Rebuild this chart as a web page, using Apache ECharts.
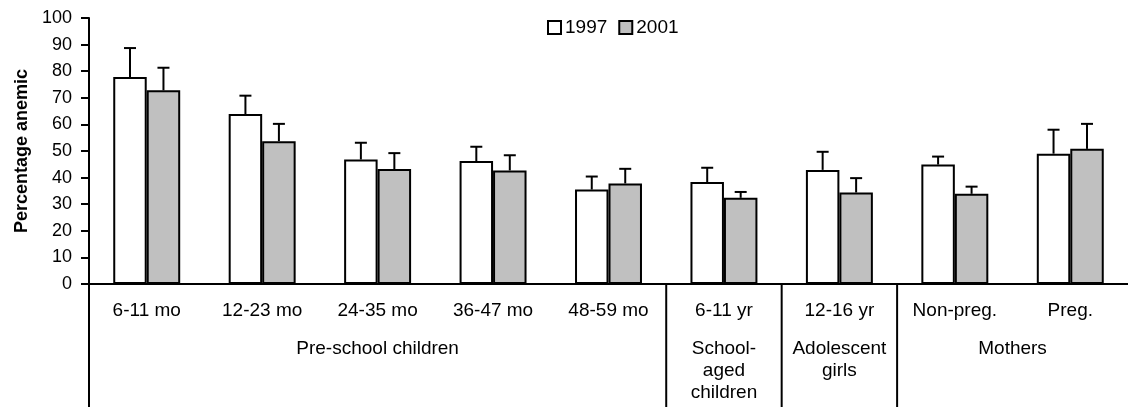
<!DOCTYPE html>
<html>
<head>
<meta charset="utf-8">
<script src="https://cdn.jsdelivr.net/npm/echarts@6/dist/echarts.min.js"></script>
<style>
html,body{margin:0;padding:0;background:#fff;}
#chart{width:1128px;height:407px;}
</style>
</head>
<body>
<div id="chart"></div>
<script>
// ---- data ----
const categories = ['6-11 mo','12-23 mo','24-35 mo','36-47 mo','48-59 mo','6-11 yr','12-16 yr','Non-preg.','Preg.'];
const values1997 = [77.8, 63.9, 46.8, 46.2, 35.5, 38.3, 42.9, 44.9, 49.0];
const values2001 = [72.8, 53.7, 43.2, 42.7, 37.8, 32.4, 34.4, 33.9, 50.8];
const upper1997 = [88.7, 70.8, 53.1, 51.6, 40.4, 43.7, 49.7, 47.9, 58.0];
const upper2001 = [81.3, 60.2, 49.2, 48.4, 43.3, 34.6, 39.8, 36.6, 60.2];
const groupNames = ['Pre-school children', 'School-\naged\nchildren', 'Adolescent\ngirls', 'Mothers'];
const groupFirst = [0, 5, 6, 7];
const groupLast = [4, 5, 6, 8];
const yTicks = [0,10,20,30,40,50,60,70,80,90,100];

const FONT = 'Liberation Sans, Arial, sans-serif';
const GAP = 0.42;

function errSeries(vals, ups, side) {
  return {
    type: 'custom',
    clip: false,
    z: 5,
    silent: true,
    data: vals.map((v, i) => [i, v, ups[i]]),
    renderItem: function (params, api) {
      const i = api.value(0);
      const bw = api.size([1, 0])[0];
      const barW = bw * (1 - GAP) / 2;
      const p0 = api.coord([i, api.value(1)]);
      const p1 = api.coord([i, api.value(2)]);
      const x = p0[0] + side * barW / 2;
      const cap = 6;
      const st = { stroke: '#000', lineWidth: 2 };
      return {
        type: 'group',
        children: [
          { type: 'line', shape: { x1: x, y1: p0[1], x2: x, y2: p1[1] }, style: st },
          { type: 'line', shape: { x1: x - cap, y1: p1[1], x2: x + cap, y2: p1[1] }, style: st }
        ]
      };
    }
  };
}

const chart = echarts.init(document.getElementById('chart'), null, { renderer: 'canvas' });
chart.setOption({
  animation: false,
  backgroundColor: '#fff',
  textStyle: { fontFamily: FONT, color: '#000' },
  grid: { left: 89, right: -7, top: 18, bottom: 123 },
  legend: {
    data: ['1997', '2001'],
    left: 547, top: 18, padding: 0,
    itemWidth: 13, itemHeight: 13, itemGap: 11,
    icon: 'rect',
    textStyle: { fontSize: 19, color: '#000', fontFamily: FONT, padding: [0, 0, 0, -1] }
  },
  xAxis: {
    type: 'category',
    data: categories,
    axisLine: { lineStyle: { color: '#000', width: 2 } },
    axisTick: { show: false },
    axisLabel: { fontSize: 19, color: '#000', margin: 17, fontFamily: FONT, interval: 0 },
    splitLine: { show: false }
  },
  yAxis: {
    type: 'value',
    min: yTicks[0], max: yTicks[yTicks.length - 1], interval: 10,
    name: 'Percentage anemic',
    nameLocation: 'middle',
    nameGap: 57,
    nameTextStyle: { fontSize: 18, fontWeight: 'bold', color: '#000', fontFamily: FONT },
    axisLine: { show: true, lineStyle: { color: '#000', width: 2 } },
    axisTick: { show: true, length: 8, lineStyle: { color: '#000', width: 2 } },
    axisLabel: { fontSize: 18, color: '#000', margin: 17, fontFamily: FONT },
    splitLine: { show: false }
  },
  series: [
    {
      name: '1997', type: 'bar', data: values1997,
      barGap: '0%', barCategoryGap: (GAP * 100) + '%',
      itemStyle: { color: '#ffffff', borderColor: '#000', borderWidth: 2 }
    },
    {
      name: '2001', type: 'bar', data: values2001,
      barGap: '0%', barCategoryGap: (GAP * 100) + '%',
      itemStyle: { color: '#c0c0c0', borderColor: '#000', borderWidth: 2 }
    },
    errSeries(values1997, upper1997, -1),
    errSeries(values2001, upper2001, 1),
    {
      type: 'custom',
      clip: false,
      silent: true,
      data: groupFirst.map((f, k) => [f, groupLast[k]]),
      renderItem: function (params, api) {
        const f = api.value(0), l = api.value(1);
        const bw = api.size([1, 0])[0];
        const a = api.coord([f, 0]);
        const b = api.coord([l, 0]);
        const xl = a[0] - bw / 2;
        const cx = (a[0] + b[0]) / 2;
        return {
          type: 'group',
          children: [
            { type: 'line', shape: { x1: xl, y1: a[1], x2: xl, y2: a[1] + 130 }, style: { stroke: '#000', lineWidth: 2 } },
            { type: 'text', style: {
                text: groupNames[params.dataIndex], x: cx, y: a[1] + 54,
                align: 'center', verticalAlign: 'top',
                fontSize: 19, lineHeight: 22, fontFamily: FONT, fill: '#000'
              } }
          ]
        };
      }
    }
  ]
});
</script>
</body>
</html>
